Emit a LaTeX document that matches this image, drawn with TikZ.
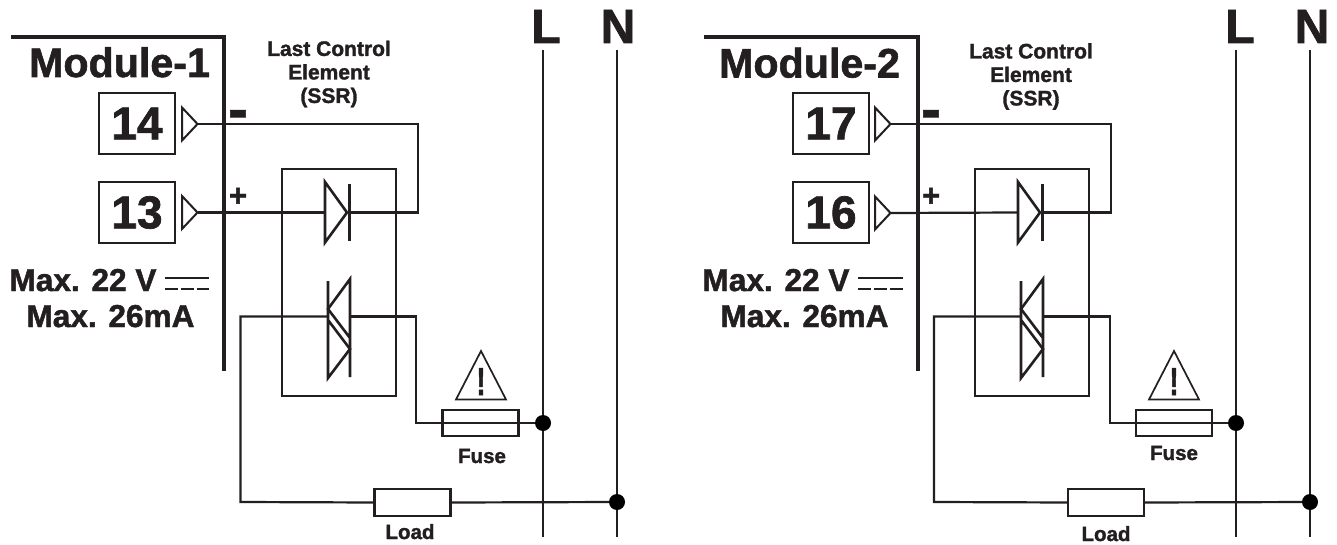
\documentclass[tikz,border=0pt]{standalone}
\usepackage{fontspec}
\setmainfont{Liberation Sans}[BoldFeatures={FakeBold=1.5}]
\definecolor{ink}{HTML}{231F20}
\tikzset{
  wire/.style={draw=ink,line width=2.2pt,line join=miter},
  sym/.style={draw=ink,line width=2.6pt,line join=miter},
  thin sym/.style={draw=ink,line width=2pt,line join=miter},
  frame/.style={draw=ink,line width=3.4pt,line join=miter},
  busline/.style={draw=ink,line width=2.2pt},
  termbox/.style={draw=ink,line width=2.4pt,minimum width=76pt,minimum height=61pt,inner sep=0pt,outer sep=0pt,text=ink,font=\bfseries\fontsize{46}{46}\selectfont},
  partbox/.style={draw=ink,line width=2.4pt,minimum width=76pt,minimum height=26.5pt,inner sep=0pt,outer sep=0pt},
  ssrbox/.style={draw=ink,line width=2.5pt,minimum width=114pt,minimum height=227pt,inner sep=0pt,outer sep=0pt},
  dot/.style={circle,fill=black,minimum size=16pt,inner sep=0pt,outer sep=0pt},
  lbl/.style={anchor=base,inner sep=0pt,outer sep=0pt,text=ink,font=\bfseries},
  title/.style={lbl,font=\bfseries\fontsize{41.2}{41.2}\selectfont},
  bus/.style={lbl,font=\bfseries\fontsize{48}{48}\selectfont},
  maxtxt/.style={lbl,font=\bfseries\fontsize{31.6}{31.6}\selectfont},
  small/.style={lbl,font=\bfseries\fontsize{20.5}{20.5}\selectfont},
  ssrtxt/.style={anchor=center,inner sep=0pt,outer sep=0pt,text=ink,align=center,font=\bfseries\fontsize{21}{23.5}\selectfont},
  sign/.style={anchor=base,inner sep=0pt,outer sep=0pt,text=ink,font=\bfseries\fontsize{31}{31}\selectfont},
}
% terminal triangle: #1 name, #2 left x, #3 mid y
\newcommand{\termtri}[3]{%
  \coordinate (#1) at (#2+15.5,#3);
  \draw[thin sym] (#2,#3-16.5) -- (#1) -- (#2,#3+16.5) -- cycle;
}
% solid state relay symbols: #1 prefix, #2 shift
\newcommand{\ssrsymbols}[2]{%
  \coordinate (#1dl) at (#2+325,212.5);
  \coordinate (#1dr) at (#2+349,212.5);
  \coordinate (#1tl) at (#2+328,316.5);
  \coordinate (#1tr) at (#2+350,316.5);
  \draw[sym] (#2+325,182) -- (#2+347,212.5) -- (#2+325,242.5) -- cycle;
  \draw[sym] (#2+349.5,184) -- (#2+349.5,241);
  \draw[sym] (#2+328,281) -- (#2+328,378) -- (#2+350,349) -- (#2+328,320);
  \draw[sym] (#2+350,377) -- (#2+350,279) -- (#2+328,309) -- (#2+350,338);
}
% warning sign: #1 name, #2 apex x
\newcommand{\warnsign}[2]{%
  \draw[draw=ink,line width=1.7pt,line join=miter] (#2,351) -- (#2+25,399.5) -- (#2-25,399.5) -- cycle;
  \node[anchor=base,inner sep=0pt,text=ink,font=\bfseries\fontsize{39}{39}\selectfont] (#1) at (#2,395) {\scalebox{0.7}[1]{!}};
}
\begin{document}
\begin{tikzpicture}[x=1pt,y=-1pt]
\useasboundingbox (0,0) rectangle (1337,545);
\fill[white] (0,0) rectangle (1337,545);

% ===== Module 1 =====
\draw[frame] (11,37) -- (224,37) -- (224,371);
\node[title] (m1) at (119.5,77) {Module-1};
\node[termbox] (t14) at (137,123.5) {14};
\node[termbox] (t13) at (137,212.5) {13};
\termtri{a14}{182}{124}
\termtri{a13}{182}{212.5}
\node[sign] (m1minus) at (238,132) {\scalebox{1}[2.2]{–}};
\node[sign] (m1plus) at (238,206) {+};
\node[ssrtxt] (m1ssr) at (329,74) {Last Control\\Element\\(SSR)};
\node[maxtxt] (m1max) at (83,291) {Max. 22 V};
\node[maxtxt] (m1ma) at (110.5,327) {Max. 26mA};
\coordinate (m1dca) at (165,278); \coordinate (m1dcb) at (209,278);
\coordinate (m1dcc) at (165,289); \coordinate (m1dcd) at (209,289);
\draw[draw=ink,line width=2.8pt] (m1dca) -- (m1dcb);
\draw[draw=ink,line width=2.8pt,dash pattern=on 12.5pt off 3.5pt] (m1dcc) -- (m1dcd);

\node[ssrbox] (s1) at (339,282.5) {};
\ssrsymbols{p}{0}
\coordinate (w1a) at (418,124);
\coordinate (w1b) at (416,423);
\coordinate (w1c) at (240.5,502);
\draw[wire] (a14) -- (w1a) -- (418,212.5) -- (pdr);
\draw[wire] (a13) -- (pdl);

\node[bus] (L1) at (546,43) {L};
\node[bus] (N1) at (618,43) {N};
\coordinate (L1b) at (543,537); \coordinate (N1b) at (617,537);
\draw[busline] (543,50) -- (L1b);
\draw[busline] (617,50) -- (N1b);
\node[dot] (d1f) at (543,423) {};
\node[dot] (d1l) at (617,502) {};
\node[partbox] (f1) at (480.5,423) {};
\node[partbox] (l1) at (412.5,502.5) {};
\draw[wire] (ptr) -- (416,316.5) -- (w1b) -- (d1f);
\draw[wire] (ptl) -- (240.5,316.5) -- (w1c) -- (l1.west);
\draw[wire] (l1.east) -- (d1l);
\warnsign{w1}{481}
\node[small] (f1t) at (482,463) {Fuse};
\node[small] (l1t) at (410,539) {Load};

% ===== Module 2 =====
\draw[frame] (704,37) -- (918,37) -- (918,371);
\node[title] (m2) at (809.5,77.5) {Module-2};
\node[termbox] (t17) at (831,123.5) {17};
\node[termbox] (t16) at (831,212.5) {16};
\termtri{a17}{875}{124}
\termtri{a16}{875}{213}
\node[sign] (m2minus) at (931,132) {\scalebox{1}[2.2]{–}};
\node[sign] (m2plus) at (931,206) {+};
\node[ssrtxt] (m2ssr) at (1031,76.5) {Last Control\\Element\\(SSR)};
\node[maxtxt] (m2max) at (776,291) {Max. 22 V};
\node[maxtxt] (m2ma) at (804.5,327) {Max. 26mA};
\coordinate (m2dca) at (858,278); \coordinate (m2dcb) at (903,278);
\coordinate (m2dcc) at (858,289); \coordinate (m2dcd) at (903,289);
\draw[draw=ink,line width=2.8pt] (m2dca) -- (m2dcb);
\draw[draw=ink,line width=2.8pt,dash pattern=on 12.5pt off 3.5pt] (m2dcc) -- (m2dcd);

\node[ssrbox] (s2) at (1032,282.5) {};
\ssrsymbols{q}{693}
\coordinate (w2a) at (1111,124);
\coordinate (w2b) at (1110,423);
\coordinate (w2c) at (934,502);
\draw[wire] (a17) -- (w2a) -- (1111,212.5) -- (qdr);
\draw[wire] (a16) -- (qdl);

\node[bus] (L2) at (1240,43) {L};
\node[bus] (N2) at (1312,43) {N};
\coordinate (L2b) at (1236,537); \coordinate (N2b) at (1310,537);
\draw[busline] (1236,50) -- (L2b);
\draw[busline] (1310,50) -- (N2b);
\node[dot] (d2f) at (1236,423) {};
\node[dot] (d2l) at (1310,502) {};
\node[partbox] (f2) at (1174,423) {};
\node[partbox] (l2) at (1106,502.5) {};
\draw[wire] (qtr) -- (1110,316.5) -- (w2b) -- (d2f);
\draw[wire] (qtl) -- (934,316.5) -- (w2c) -- (l2.west);
\draw[wire] (l2.east) -- (d2l);
\warnsign{w2}{1174}
\node[small] (f2t) at (1174,460) {Fuse};
\node[small] (l2t) at (1106,541) {Load};
\end{tikzpicture}
\end{document}
